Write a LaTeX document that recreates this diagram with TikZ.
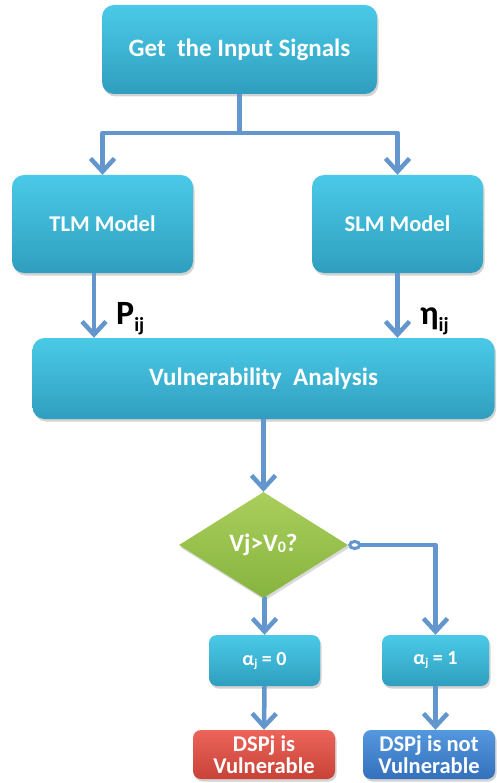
\documentclass[tikz,border=0pt]{standalone}
\usepackage{fontspec}
\setmainfont{Carlito}
\usetikzlibrary{arrows.meta,shadows,shapes.geometric,calc}

\definecolor{flowblue}{RGB}{98,150,205}
\definecolor{boxtop}{RGB}{74,202,232}
\definecolor{boxbot}{RGB}{48,158,190}
\definecolor{greentop}{RGB}{170,206,92}
\definecolor{greenbot}{RGB}{134,180,62}
\definecolor{redtop}{RGB}{236,100,90}
\definecolor{redbot}{RGB}{200,66,56}
\definecolor{bluetop}{RGB}{84,152,222}
\definecolor{bluebot}{RGB}{52,112,188}

\tikzset{
  procbox/.style={rectangle, rounded corners=12pt, top color=boxtop, bottom color=boxbot,
    draw=none, text=white, font=\bfseries, align=center, inner sep=0pt,
    drop shadow={opacity=0.35, shadow xshift=1.5pt, shadow yshift=-2.5pt}},
  smallbox/.style={procbox, rounded corners=8pt},
  decision/.style={diamond, top color=greentop, bottom color=greenbot, draw=none,
    text=white, font=\bfseries, inner sep=0pt, aspect=1.6,
    drop shadow={opacity=0.3, shadow xshift=1.5pt, shadow yshift=-2.5pt}},
  flow/.style={draw=flowblue, line width=4.5pt, line join=round},
  flowarrow/.style={flow, -{Straight Barb[length=13pt, width=24pt, line width=4.5pt]}},
  label/.style={font=\bfseries, text=black, inner sep=0pt}
}

\begin{document}
\begin{tikzpicture}[x=1pt, y=-1pt]
  \useasboundingbox (0,0) rectangle (496,783);

  % boxes
  \node[procbox, minimum width=275pt, minimum height=89pt, font=\bfseries\fontsize{25}{28}\selectfont]
    (input) at (239.5,49.5) {Get\ \ the Input Signals};
  \node[procbox, minimum width=181pt, minimum height=98pt, font=\bfseries\fontsize{22.5}{25}\selectfont]
    (tlm) at (102.5,224) {TLM Model};
  \node[procbox, minimum width=171pt, minimum height=98pt, font=\bfseries\fontsize{22.5}{25}\selectfont]
    (slm) at (397.5,224) {SLM Model};
  \node[procbox, minimum width=462pt, minimum height=81pt, font=\bfseries\fontsize{25}{28}\selectfont]
    (va) at (263.5,378.5) {Vulnerability\ \ Analysis};
  \node[decision, minimum width=169pt, minimum height=106pt, font=\bfseries\fontsize{25}{28}\selectfont]
    (dec) at (263.5,545) {Vj>V\raisebox{-1pt}{\fontsize{16}{18}\selectfont 0}?};
  \node[smallbox, minimum width=111pt, minimum height=51pt, font=\bfseries\fontsize{20}{22}\selectfont]
    (a0) at (264.5,660.5) {α\raisebox{-2pt}{\fontsize{12}{13}\selectfont j} = 0};
  \node[smallbox, minimum width=107pt, minimum height=51pt, font=\bfseries\fontsize{20}{22}\selectfont]
    (a1) at (435.5,660.5) {α\raisebox{-2pt}{\fontsize{12}{13}\selectfont j} = 1};
  \node[smallbox, minimum width=142pt, minimum height=49pt, top color=redtop, bottom color=redbot,
    font=\bfseries\fontsize{22.5}{22}\selectfont]
    (vul) at (264,754.5) {DSPj is\\Vulnerable};
  \node[smallbox, minimum width=132pt, minimum height=49pt, top color=bluetop, bottom color=bluebot,
    font=\bfseries\fontsize{22.5}{22}\selectfont]
    (notvul) at (429,754.5) {DSPj is not\\Vulnerable};

  % connectors
  \coordinate (split) at (239.5,133);
  \draw[flow] (input.south) -- (split);
  \draw[flowarrow] (split) -| (tlm.north);
  \draw[flowarrow] (split) -| (slm.north);
  \draw[flowarrow] ([xshift=-8.5pt]tlm.south) -- ([xshift=-8.5pt]tlm.south |- va.north);
  \draw[flowarrow] (slm.south) -- (slm.south |- va.north);
  \draw[flowarrow] (va.south) -- (dec.north);
  \draw[flowarrow] (dec.south) -- (dec.south -| a0.north) -- (a0.north);
  \draw[flow, {Circle[open, length=13pt, width=10pt, line width=3pt, fill=white]}-{Straight Barb[length=13pt, width=24pt, line width=4.5pt]}]
    (dec.east) -| (a1.north);
  \draw[flowarrow] (a0.south) -- (vul.north);
  \draw[flowarrow] (a1.south) -- (a1.south |- notvul.north);

  % edge labels
  \node[label, font=\bfseries\fontsize{34}{36}\selectfont, anchor=base west]
    (pij) at (116,324) {P\raisebox{-7pt}{\fontsize{20}{22}\selectfont ij}};
  \node[label, font=\bfseries\fontsize{34}{36}\selectfont, anchor=base west]
    (nij) at (420,324) {η\raisebox{-7pt}{\fontsize{20}{22}\selectfont ij}};
\end{tikzpicture}
\end{document}
